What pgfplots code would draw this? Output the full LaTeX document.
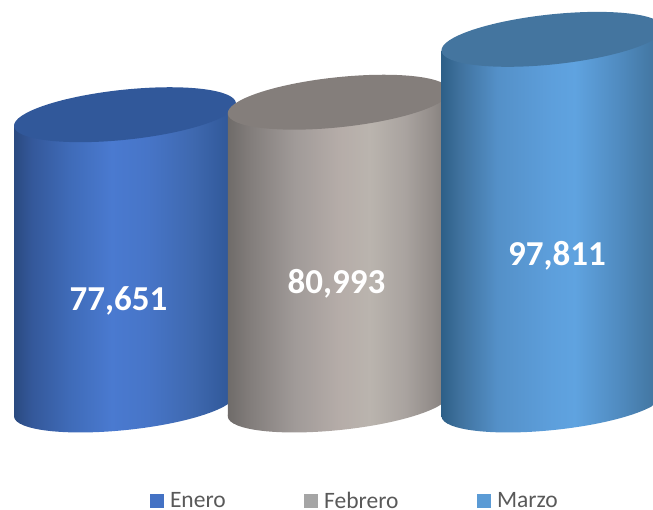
\documentclass[border=0pt]{standalone}
\usepackage{pgfplots}
\pgfplotsset{compat=1.18}
\usepackage{fontspec}
\setmainfont{Carlito}
\definecolor{topA}{HTML}{31589A}
\definecolor{topB}{HTML}{847E7B}
\definecolor{topC}{HTML}{44759F}
\definecolor{legA}{HTML}{4472C4}
\definecolor{legB}{HTML}{A5A5A5}
\definecolor{legC}{HTML}{5B9BD5}
\definecolor{legT}{HTML}{595959}
% stops run over the middle 50bp of the 100bp shading (25bp=left edge, 75bp=right edge)
\pgfdeclarehorizontalshading{bodyA}{100bp}{
 rgb(0bp)=(0.165,0.290,0.502);
 rgb(25bp)=(0.165,0.290,0.502);
 rgb(29bp)=(0.204,0.345,0.604);
 rgb(37.5bp)=(0.247,0.420,0.722);
 rgb(47bp)=(0.290,0.478,0.816);
 rgb(55bp)=(0.278,0.459,0.784);
 rgb(65bp)=(0.247,0.412,0.690);
 rgb(75bp)=(0.180,0.333,0.584);
 rgb(100bp)=(0.180,0.333,0.584)}
\pgfdeclarehorizontalshading{bodyB}{100bp}{
 rgb(0bp)=(0.435,0.420,0.412);
 rgb(25bp)=(0.435,0.420,0.412);
 rgb(30bp)=(0.510,0.490,0.482);
 rgb(40bp)=(0.627,0.604,0.596);
 rgb(50bp)=(0.710,0.675,0.659);
 rgb(57bp)=(0.729,0.706,0.682);
 rgb(65bp)=(0.663,0.639,0.624);
 rgb(71bp)=(0.576,0.553,0.541);
 rgb(75bp)=(0.498,0.478,0.471);
 rgb(100bp)=(0.498,0.478,0.471)}
\pgfdeclarehorizontalshading{bodyC}{100bp}{
 rgb(0bp)=(0.180,0.373,0.533);
 rgb(25bp)=(0.180,0.373,0.533);
 rgb(29bp)=(0.247,0.443,0.616);
 rgb(37.5bp)=(0.329,0.565,0.784);
 rgb(50bp)=(0.365,0.624,0.863);
 rgb(55bp)=(0.373,0.639,0.878);
 rgb(65bp)=(0.314,0.545,0.753);
 rgb(75bp)=(0.247,0.443,0.600);
 rgb(100bp)=(0.247,0.443,0.600)}
\newcommand{\ellpath}{\pgfpathellipse{\pgfpointorigin}{\pgfqpoint{110.99pt}{11.67pt}}{\pgfqpoint{-2.61pt}{24.86pt}}}
\newcommand{\cylbottom}[1]{\begin{pgfscope}\ellpath\pgfusepath{clip}\pgfpathrectangle{\pgfqpoint{-111pt}{-40pt}}{\pgfqpoint{222pt}{80pt}}\pgfshadepath{#1}{0}\pgfusepath{discard}\end{pgfscope}}
\newcommand{\cyltop}[1]{\begin{pgfscope}\pgfsetfillcolor{#1}\ellpath\pgfusepath{fill}\end{pgfscope}}
\pgfdeclareplotmark{botA}{\cylbottom{bodyA}}
\pgfdeclareplotmark{botB}{\cylbottom{bodyB}}
\pgfdeclareplotmark{botC}{\cylbottom{bodyC}}
\pgfdeclareplotmark{topA}{\cyltop{topA}}
\pgfdeclareplotmark{topB}{\cyltop{topB}}
\pgfdeclareplotmark{topC}{\cyltop{topC}}
\pgfplotsset{cyl/.style={
  anchor=south west, at={(0pt,0pt)},
  width=653pt, height=510pt, scale only axis,
  xmin=-0.5848, xmax=2.4702,
  ymin=-28087.5, ymax=108337.5,
  axis lines=none,
  clip=false}}
\begin{document}
\begin{tikzpicture}
\clip (0pt,0pt) rectangle (653pt,510pt);
% Enero 77651
\begin{axis}[cyl]
\addplot[forget plot, draw=none, shade, shading=bodyA] coordinates {(-0.5193,74708) (0.5193,80594) (0.5193,2943) (-0.5193,-2943)} --cycle;
\addplot[forget plot, only marks, mark=botA] coordinates {(0,0)};
\addplot[forget plot, only marks, mark=topA] coordinates {(0,77651)};
\end{axis}
% Febrero 80993
\begin{axis}[cyl]
\addplot[forget plot, draw=none, shade, shading=bodyB] coordinates {(0.4807,78050) (1.5193,83936) (1.5193,2943) (0.4807,-2943)} --cycle;
\addplot[forget plot, only marks, mark=botB] coordinates {(1,0)};
\addplot[forget plot, only marks, mark=topB] coordinates {(1,80993)};
\end{axis}
% Marzo 97811
\begin{axis}[cyl,
  legend columns=3,
  legend style={draw=none, fill=none, at={(axis cs:-0.5848,-28087.5)}, anchor=south west,
    xshift=150pt, yshift=-2pt, inner sep=0pt, outer sep=0pt,
    font=\fontsize{23.5}{26}\selectfont, text=legT,
    /tikz/every even column/.append style={column sep=76.5pt}},
  legend image code/.code={\fill[#1,draw=none] (0pt,-7pt) rectangle (14pt,7pt);\path[draw=none,fill=none] (0pt,0pt) -- (18pt,0pt);},
  legend cell align=left]
\addplot[forget plot, draw=none, shade, shading=bodyC] coordinates {(1.4807,94868) (2.5193,100754) (2.5193,2943) (1.4807,-2943)} --cycle;
\addplot[forget plot, only marks, mark=botC] coordinates {(2,0)};
\addplot[forget plot, only marks, mark=topC] coordinates {(2,97811)};
\addlegendimage{legA}\addlegendentry{Enero}
\addlegendimage{legB}\addlegendentry{Febrero}
\addlegendimage{legC}\addlegendentry{Marzo}
\node[text=white, font=\bfseries\fontsize{35}{40}\selectfont] at (axis cs:-0.0304,27900) {77,651};
\node[text=white, font=\bfseries\fontsize{35}{40}\selectfont] at (axis cs:0.9895,32400) {80,993};
\node[text=white, font=\bfseries\fontsize{35}{40}\selectfont] at (axis cs:2.0210,39800) {97,811};
\end{axis}
\end{tikzpicture}
\end{document}
